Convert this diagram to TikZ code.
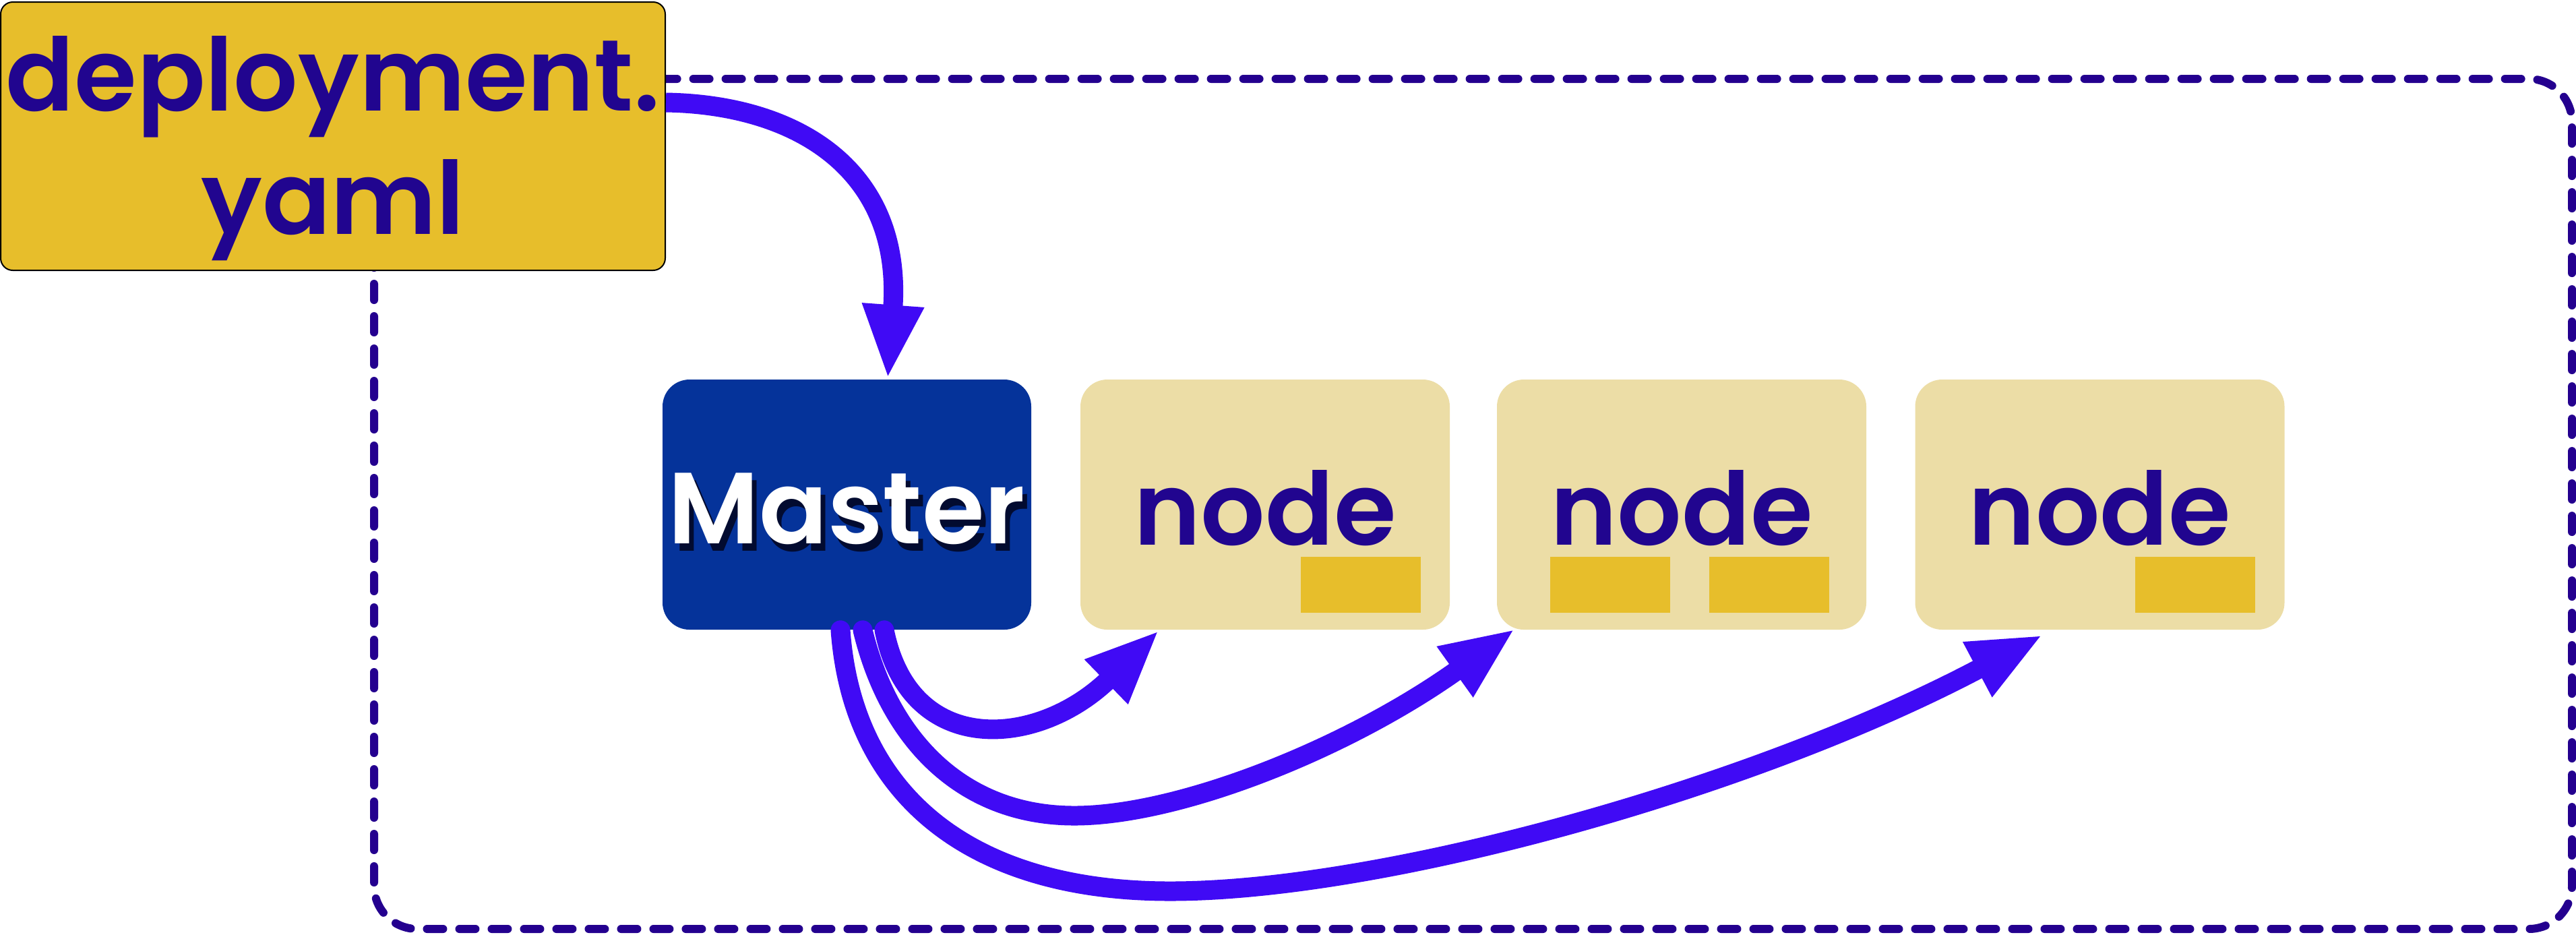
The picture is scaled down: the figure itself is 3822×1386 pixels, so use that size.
\documentclass[tikz,border=0pt]{standalone}
\usepackage{fontspec}
\setmainfont{Poppins}
\newfontfamily\popsb{Poppins SemiBold}
\usetikzlibrary{arrows.meta,calc}
\definecolor{yamlc}{HTML}{E7BE2B}
\definecolor{inkc}{HTML}{21058F}
\definecolor{dashc}{HTML}{24008F}
\definecolor{masterc}{HTML}{05339A}
\definecolor{nodec}{HTML}{ECDDA6}
\definecolor{arrc}{HTML}{400AF5}
\definecolor{shadc}{HTML}{020B30}
\newcommand\lowerby[2]{\raisebox{-#1}[\height][\depth]{#2}}
\begin{document}
\begin{tikzpicture}[x=0.25pt,y=-0.25pt,
  bigfont/.style={font=\popsb\fontsize{37.5}{45.75}\selectfont},
  yamlbox/.style={draw=black, line width=0.5pt, fill=yamlc, rounded corners=4.5pt,
    minimum width=246.5pt, minimum height=99.5pt, inner sep=0pt},
  yamltext/.style={bigfont, text=inkc, align=center, inner sep=0pt},
  masterbox/.style={fill=masterc, rounded corners=10pt, minimum width=136.75pt,
    minimum height=92.75pt, inner sep=0pt, bigfont, text=white},
  workbox/.style={fill=nodec, rounded corners=10pt, minimum width=137pt,
    minimum height=92.75pt, inner sep=0pt, bigfont, text=inkc},
  podbox/.style={fill=yamlc, minimum width=44.5pt, minimum height=20.75pt, inner sep=0pt},
  cluster/.style={draw=dashc, line width=3pt, dash pattern=on 6pt off 6pt,
    line cap=round, rounded corners=16pt},
  flow/.style={draw=arrc, line width=7.25pt, line cap=round,
    -{Triangle[length=27.5pt,width=21pt]}},
]
\useasboundingbox (0,0) rectangle (3822,1386);

% cluster frame
\draw[cluster] (555,117) rectangle (3816,1378);

% manifest
\node[yamlbox] (yaml) at (494,202) {};
\node[yamltext] (yamllabel) at (494,220) {deployment.\\yaml};

% master and worker nodes
\node[masterbox] (master) at (1256.5,748.5)
  {\lowerby{1.5pt}{\rlap{\hspace{1.75pt}\raisebox{-2.75pt}[0pt][0pt]{\color{shadc}Master}}Master}};
\node[workbox] (node1) at (1877,748.5) {\lowerby{1.25pt}{node}};
\node[workbox] (node2) at (2495,748.5) {\lowerby{1.25pt}{node}};
\node[workbox] (node3) at (3115.5,748.5) {\lowerby{1.25pt}{node}};

% pods
\node[podbox] (pod1) at (2019,867.5) {};
\node[podbox] (pod2a) at (2388.5,867.5) {};
\node[podbox] (pod2b) at (2625,867.5) {};
\node[podbox] (pod3) at (3256.5,867.5) {};

% arrows
\draw[flow, line cap=butt] ([shift={(0,-50)}]yaml.east)
  .. controls (1180,155) and (1340,250) .. ([shift={(60.5,0)}]master.north);
\draw[flow] ([shift={(55.5,0)}]master.south)
  .. controls (1350,1125) and (1540,1110) .. ([shift={(-157,0)}]node1.south);
\draw[flow] ([shift={(23.5,0)}]master.south)
  .. controls (1320,1100) and (1430,1210) .. (1594,1210)
  .. controls (1750,1210) and (2000,1110) .. ([shift={(-247,-2)}]node2.south);
\draw[flow] ([shift={(-9.5,0)}]master.south)
  .. controls (1265,1180) and (1440,1322) .. (1736,1322)
  .. controls (2050,1322) and (2600,1170) .. ([shift={(-84.5,7)}]node3.south);
\end{tikzpicture}
\end{document}
